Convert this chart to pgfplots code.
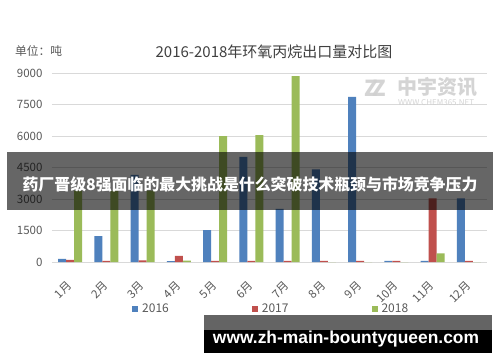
\documentclass[border=0pt]{standalone}
\usepackage{fontspec}
\setmainfont{Noto Sans CJK SC}
\newfontfamily\urlfont{Liberation Sans}
\usepackage{pgfplots}
\pgfplotsset{compat=1.18}
\definecolor{c16}{RGB}{79,129,189}
\definecolor{c17}{RGB}{192,80,77}
\definecolor{c18}{RGB}{155,187,89}
\definecolor{gridc}{RGB}{217,217,217}
\definecolor{txt}{RGB}{89,89,89}
\definecolor{ttl}{RGB}{64,64,64}
\definecolor{wm}{RGB}{208,208,208}
\definecolor{band}{RGB}{100,100,100}
\begin{document}
\begin{tikzpicture}[x=1pt,y=1pt]
\useasboundingbox[fill=white] (0,0) rectangle (500,362);
\begin{axis}[at={(52pt,100pt)}, anchor=south west, scale only axis,
  width=435pt, height=188.7pt,
  xmin=-0.5, xmax=11.5, ymin=0, ymax=9000,
  ybar=0pt, bar width=8pt,
  axis line style={draw=none}, major tick length=0pt,
  ytick={0,1500,...,9000}, ymajorgrids, grid style={gridc, line width=0.8pt},
  xtick={0,...,11},
  xticklabels={1月,2月,3月,4月,5月,6月,7月,8月,9月,10月,11月,12月},
  yticklabel style={font=\fontsize{11.5}{12}\selectfont, text=txt, xshift=-6pt},
  xticklabel style={font=\fontsize{11.5}{12}\selectfont, text=txt, yshift=-19pt, xshift=2pt, rotate=45, anchor=east},
  /pgf/number format/assume math mode=true, /pgf/number format/1000 sep={},
  scaled y ticks=false,
  legend image code/.code={\fill[#1] (0pt,-3pt) rectangle (6pt,3pt);},
  legend style={at={(0.184,-0.249)}, anchor=west, legend columns=3, draw=none, fill=none,
    inner sep=0pt, nodes={inner sep=0pt}, font=\fontsize{12}{12}\selectfont, text=txt,
    /tikz/every even column/.append style={column sep=83pt},
    /tikz/every odd column/.append style={column sep=4pt}},
]
\addplot[fill=c16, draw=none] coordinates {(0,150) (1,1240) (2,4150) (3,40) (4,1525) (5,5020) (6,2530) (7,4420) (8,7880) (9,50) (10,50) (11,3040)};
\addplot[fill=c17, draw=none] coordinates {(0,100) (1,50) (2,80) (3,290) (4,50) (5,50) (6,50) (7,50) (8,50) (9,50) (10,3040) (11,50)};
\addplot[fill=c18, draw=none] coordinates {(0,3400) (1,3400) (2,3400) (3,60) (4,6000) (5,6050) (6,8870) (7,0) (8,0) (9,0) (10,415) (11,0)};
\legend{2016,2017,2018}
\end{axis}
% title and unit
\node[text=ttl, font=\fontsize{15}{15}\selectfont] at (274,310) {2016-2018年环氧丙烷出口量对比图};
\node[anchor=west, text=txt, font=\fontsize{11.75}{12}\selectfont, inner sep=0pt] at (15,311) {单位：吨};
% watermark
\node[text=wm, font=\bfseries\fontsize{22}{22}\selectfont, opacity=0.9] at (375,274) {Z\kern-6pt Z};
\node[anchor=west, text=wm, font=\bfseries\fontsize{20}{20}\selectfont, inner sep=0pt, opacity=0.9] at (397,275) {中宇资讯};
\node[anchor=west, text=wm, font=\fontsize{8}{8}\selectfont, inner sep=0pt, opacity=0.9] at (398,259) {WWW.CHEM365.NET};
% banner
\fill[black, opacity=0.6] (7,152) rectangle (493,210);
\node[text=white, font=\bfseries\fontsize{15.9}{16}\selectfont] at (250,178) {药厂晋级8强面临的最大挑战是什么突破技术瓶颈与市场竞争压力};
% bottom url band
\fill[band] (204,32) rectangle (492,47);
\fill[black] (204,9) rectangle (492,32);
\node[text=white, font=\urlfont\bfseries] at (346,23) {\resizebox{266pt}{!}{www.zh-main-bountyqueen.com}};
\end{tikzpicture}
\end{document}
